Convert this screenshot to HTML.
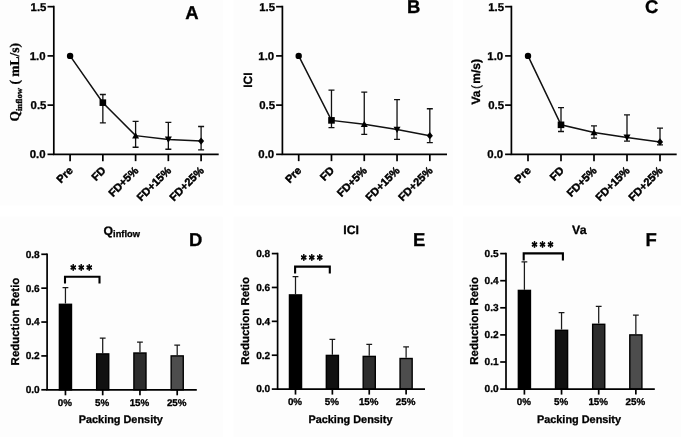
<!DOCTYPE html>
<html lang="en"><head><meta charset="utf-8"><title>Figure</title>
<style>
html,body{margin:0;padding:0;background:#fff;}
svg{display:block;will-change:transform;}
text{font-family:"Liberation Sans", Arial, Helvetica, sans-serif;font-weight:bold;fill:#000;stroke:#000;stroke-width:0.3px;text-rendering:geometricPrecision;}
.tk{font-size:11.4px;}
.rk{font-size:11px;stroke-width:0.45px;}
.tb{font-size:10.1px;}
.tx{font-size:9.8px;}
.lt{font-size:18.5px;}
.xl{font-size:10.9px;}
.yl{font-size:12px;}
.rl{font-size:11.45px;}
.ti{font-size:12.3px;}
.st{font-family:"DejaVu Sans","Liberation Sans",sans-serif;font-size:12px;letter-spacing:2.8px;stroke-width:0.75px;stroke-linejoin:round;}
.sf{font-family:"Liberation Serif", "Times New Roman", serif;font-size:13.5px;}
</style></head><body>
<svg width="681" height="437" viewBox="0 0 681 437">
<rect width="681" height="437" fill="#fff"/>
<rect x="0" y="0" width="222.7" height="205.6" fill="#fdfdfd"/>
<rect x="233.6" y="0" width="219.1" height="205.6" fill="#fdfdfd"/>
<rect x="463" y="0" width="218" height="205.6" fill="#fdfdfd"/>
<rect x="0" y="216.6" width="222.7" height="220.4" fill="#fdfdfd"/>
<rect x="233.6" y="216.6" width="219.1" height="220.4" fill="#fdfdfd"/>
<rect x="463" y="216.6" width="218" height="220.4" fill="#fdfdfd"/>
<path d="M53.8 5.82 V154.35 H218.7" fill="none" stroke="#000" stroke-width="1.7"/>
<path d="M47.5 6.67 H53.8" stroke="#000" stroke-width="1.7"/>
<text x="46.4" y="11" text-anchor="end" class="tk">1.5</text>
<path d="M47.5 55.9 H53.8" stroke="#000" stroke-width="1.7"/>
<text x="45.6" y="60" text-anchor="end" class="tk">1.0</text>
<path d="M47.5 105.12 H53.8" stroke="#000" stroke-width="1.7"/>
<text x="46.4" y="109" text-anchor="end" class="tk">0.5</text>
<path d="M47.5 154.35 H53.8" stroke="#000" stroke-width="1.7"/>
<text x="45.6" y="158" text-anchor="end" class="tk">0.0</text>
<path d="M70.1 154.35 V161.15" stroke="#000" stroke-width="1.7"/>
<text transform="translate(73.6 171.25) rotate(-45)" text-anchor="end" class="rk">Pre</text>
<path d="M102.85 154.35 V161.15" stroke="#000" stroke-width="1.7"/>
<text transform="translate(106.35 171.25) rotate(-45)" text-anchor="end" class="rk">FD</text>
<path d="M135.6 154.35 V161.15" stroke="#000" stroke-width="1.7"/>
<text transform="translate(139.1 171.25) rotate(-45)" text-anchor="end" class="rk">FD+5%</text>
<path d="M168.35 154.35 V161.15" stroke="#000" stroke-width="1.7"/>
<text transform="translate(171.85 171.25) rotate(-45)" text-anchor="end" class="rk">FD+15%</text>
<path d="M201.1 154.35 V161.15" stroke="#000" stroke-width="1.7"/>
<text transform="translate(204.6 171.25) rotate(-45)" text-anchor="end" class="rk">FD+25%</text>
<path d="M70.1 55.9 L102.85 102.66 L135.6 135.64 L168.35 139.39 L201.1 141.06" fill="none" stroke="#111" stroke-width="1.5"/>
<circle cx="70.1" cy="55.9" r="3.2" fill="#000"/>
<path d="M102.85 94.49 V122.85 M99.85 94.49 H105.85 M99.85 122.85 H105.85" fill="none" stroke="#111" stroke-width="1.3"/>
<rect x="99.55" y="99.36" width="6.6" height="6.6" fill="#000"/>
<path d="M135.6 121.37 V147.26 M132.6 121.37 H138.6 M132.6 147.26 H138.6" fill="none" stroke="#111" stroke-width="1.3"/>
<polygon points="135.6,132.14 139.1,138.44 132.1,138.44" fill="#000"/>
<path d="M168.35 122.35 V149.23 M165.35 122.35 H171.35 M165.35 149.23 H171.35" fill="none" stroke="#111" stroke-width="1.3"/>
<polygon points="168.35,142.89 171.85,136.59 164.85,136.59" fill="#000"/>
<path d="M201.1 126.49 V149.82 M198.1 126.49 H204.1 M198.1 149.82 H204.1" fill="none" stroke="#111" stroke-width="1.3"/>
<polygon points="201.1,137.46 204.16,141.06 201.1,144.66 198.04,141.06" fill="#000"/>
<text transform="translate(19.2 121.6) rotate(-90)" class="sf">Q<tspan font-size="8.7" dy="2.4">inflow</tspan><tspan dy="-2.4" style="white-space:pre"> ( mL/s)</tspan></text>
<text x="185.2" y="18.9" class="lt">A</text>
<path d="M282.4 5.82 V154.35 H447" fill="none" stroke="#000" stroke-width="1.7"/>
<path d="M276.1 6.67 H282.4" stroke="#000" stroke-width="1.7"/>
<text x="275" y="11" text-anchor="end" class="tk">1.5</text>
<path d="M276.1 55.9 H282.4" stroke="#000" stroke-width="1.7"/>
<text x="274.2" y="60" text-anchor="end" class="tk">1.0</text>
<path d="M276.1 105.12 H282.4" stroke="#000" stroke-width="1.7"/>
<text x="275" y="109" text-anchor="end" class="tk">0.5</text>
<path d="M276.1 154.35 H282.4" stroke="#000" stroke-width="1.7"/>
<text x="274.2" y="158" text-anchor="end" class="tk">0.0</text>
<path d="M298.7 154.35 V161.15" stroke="#000" stroke-width="1.7"/>
<text transform="translate(302.2 171.25) rotate(-45)" text-anchor="end" class="rk">Pre</text>
<path d="M331.48 154.35 V161.15" stroke="#000" stroke-width="1.7"/>
<text transform="translate(334.98 171.25) rotate(-45)" text-anchor="end" class="rk">FD</text>
<path d="M364.26 154.35 V161.15" stroke="#000" stroke-width="1.7"/>
<text transform="translate(367.76 171.25) rotate(-45)" text-anchor="end" class="rk">FD+5%</text>
<path d="M397.04 154.35 V161.15" stroke="#000" stroke-width="1.7"/>
<text transform="translate(400.54 171.25) rotate(-45)" text-anchor="end" class="rk">FD+15%</text>
<path d="M429.82 154.35 V161.15" stroke="#000" stroke-width="1.7"/>
<text transform="translate(433.32 171.25) rotate(-45)" text-anchor="end" class="rk">FD+25%</text>
<path d="M298.7 55.9 L331.48 120.38 L364.26 124.32 L397.04 129.54 L429.82 135.64" fill="none" stroke="#111" stroke-width="1.5"/>
<circle cx="298.7" cy="55.9" r="3.2" fill="#000"/>
<path d="M331.48 90.16 V127.57 M328.48 90.16 H334.48 M328.48 127.57 H334.48" fill="none" stroke="#111" stroke-width="1.3"/>
<rect x="328.18" y="117.08" width="6.6" height="6.6" fill="#000"/>
<path d="M364.26 92.13 V134.36 M361.26 92.13 H367.26 M361.26 134.36 H367.26" fill="none" stroke="#111" stroke-width="1.3"/>
<polygon points="364.26,120.82 367.76,127.12 360.76,127.12" fill="#000"/>
<path d="M397.04 99.61 V139.29 M394.04 99.61 H400.04 M394.04 139.29 H400.04" fill="none" stroke="#111" stroke-width="1.3"/>
<polygon points="397.04,133.04 400.54,126.74 393.54,126.74" fill="#000"/>
<path d="M429.82 108.77 V142.54 M426.82 108.77 H432.82 M426.82 142.54 H432.82" fill="none" stroke="#111" stroke-width="1.3"/>
<polygon points="429.82,132.04 432.88,135.64 429.82,139.24 426.76,135.64" fill="#000"/>
<text transform="translate(251.5 80.2) rotate(-90)" text-anchor="middle" class="yl">ICI</text>
<text x="407" y="13.2" class="lt">B</text>
<path d="M511.4 5.82 V154.35 H676.7" fill="none" stroke="#000" stroke-width="1.7"/>
<path d="M505.1 6.67 H511.4" stroke="#000" stroke-width="1.7"/>
<text x="504" y="11" text-anchor="end" class="tk">1.5</text>
<path d="M505.1 55.9 H511.4" stroke="#000" stroke-width="1.7"/>
<text x="503.2" y="60" text-anchor="end" class="tk">1.0</text>
<path d="M505.1 105.12 H511.4" stroke="#000" stroke-width="1.7"/>
<text x="504" y="109" text-anchor="end" class="tk">0.5</text>
<path d="M505.1 154.35 H511.4" stroke="#000" stroke-width="1.7"/>
<text x="503.2" y="158" text-anchor="end" class="tk">0.0</text>
<path d="M528 154.35 V161.15" stroke="#000" stroke-width="1.7"/>
<text transform="translate(531.5 171.25) rotate(-45)" text-anchor="end" class="rk">Pre</text>
<path d="M561 154.35 V161.15" stroke="#000" stroke-width="1.7"/>
<text transform="translate(564.5 171.25) rotate(-45)" text-anchor="end" class="rk">FD</text>
<path d="M594 154.35 V161.15" stroke="#000" stroke-width="1.7"/>
<text transform="translate(597.5 171.25) rotate(-45)" text-anchor="end" class="rk">FD+5%</text>
<path d="M627 154.35 V161.15" stroke="#000" stroke-width="1.7"/>
<text transform="translate(630.5 171.25) rotate(-45)" text-anchor="end" class="rk">FD+15%</text>
<path d="M660 154.35 V161.15" stroke="#000" stroke-width="1.7"/>
<text transform="translate(663.5 171.25) rotate(-45)" text-anchor="end" class="rk">FD+25%</text>
<path d="M528 55.9 L561 124.81 L594 132.49 L627 137.42 L660 141.95" fill="none" stroke="#111" stroke-width="1.5"/>
<circle cx="528" cy="55.9" r="3.2" fill="#000"/>
<path d="M561 107.59 V131.51 M558 107.59 H564 M558 131.51 H564" fill="none" stroke="#111" stroke-width="1.3"/>
<rect x="557.7" y="121.52" width="6.6" height="6.6" fill="#000"/>
<path d="M594 125.8 V138.11 M591 125.8 H597 M591 138.11 H597" fill="none" stroke="#111" stroke-width="1.3"/>
<polygon points="594,128.99 597.5,135.29 590.5,135.29" fill="#000"/>
<path d="M627 114.97 V141.06 M624 114.97 H630 M624 141.06 H630" fill="none" stroke="#111" stroke-width="1.3"/>
<polygon points="627,140.92 630.5,134.62 623.5,134.62" fill="#000"/>
<path d="M660 128.06 V144.9 M657 128.06 H663 M657 144.9 H663" fill="none" stroke="#111" stroke-width="1.3"/>
<polygon points="660,138.35 663.06,141.95 660,145.55 656.94,141.95" fill="#000"/>
<text transform="translate(480 104.6) rotate(-90)" class="yl">Va<tspan dx="1.6" style="font-weight:normal;stroke-width:0.15px">(</tspan><tspan dx="1.2">m/s)</tspan></text>
<text x="645" y="13.2" class="lt">C</text>
<path d="M65.45 303.6 V287.6 M62.55 287.6 H68.35" fill="none" stroke="#1a1a1a" stroke-width="1.25"/>
<rect x="59.4" y="304.3" width="12.1" height="85.5" fill="#000" stroke="#000" stroke-width="1.4"/>
<path d="M102.7 353.2 V338.1 M99.8 338.1 H105.6" fill="none" stroke="#1a1a1a" stroke-width="1.25"/>
<rect x="96.65" y="353.9" width="12.1" height="35.9" fill="#111" stroke="#000" stroke-width="1.4"/>
<path d="M139.95 352.3 V342 M137.05 342 H142.85" fill="none" stroke="#1a1a1a" stroke-width="1.25"/>
<rect x="133.9" y="353" width="12.1" height="36.8" fill="#2d2d2d" stroke="#000" stroke-width="1.4"/>
<path d="M177.2 355.2 V345 M174.3 345 H180.1" fill="none" stroke="#1a1a1a" stroke-width="1.25"/>
<rect x="171.15" y="355.9" width="12.1" height="33.9" fill="#4d4d4d" stroke="#000" stroke-width="1.4"/>
<path d="M47.1 253.43 V389.8 H196.8" fill="none" stroke="#000" stroke-width="1.7"/>
<path d="M41.3 389.8 H47.1" stroke="#000" stroke-width="1.7"/>
<text x="39.7" y="393" text-anchor="end" class="tb">0.0</text>
<path d="M41.3 355.92 H47.1" stroke="#000" stroke-width="1.7"/>
<text x="39.7" y="359" text-anchor="end" class="tb">0.2</text>
<path d="M41.3 322.04 H47.1" stroke="#000" stroke-width="1.7"/>
<text x="39.7" y="325" text-anchor="end" class="tb">0.4</text>
<path d="M41.3 288.16 H47.1" stroke="#000" stroke-width="1.7"/>
<text x="39.7" y="292" text-anchor="end" class="tb">0.6</text>
<path d="M41.3 254.28 H47.1" stroke="#000" stroke-width="1.7"/>
<text x="39.7" y="258" text-anchor="end" class="tb">0.8</text>
<path d="M65.45 389.8 V395.3" stroke="#000" stroke-width="1.7"/>
<text x="64.95" y="406" text-anchor="middle" class="tx">0%</text>
<path d="M102.7 389.8 V395.3" stroke="#000" stroke-width="1.7"/>
<text x="102.2" y="406" text-anchor="middle" class="tx">5%</text>
<path d="M139.95 389.8 V395.3" stroke="#000" stroke-width="1.7"/>
<text x="139.45" y="406" text-anchor="middle" class="tx">15%</text>
<path d="M177.2 389.8 V395.3" stroke="#000" stroke-width="1.7"/>
<text x="176.7" y="406" text-anchor="middle" class="tx">25%</text>
<path d="M65 283.6 V276.8 H99.5 V283.6" fill="none" stroke="#000" stroke-width="2.1"/>
<text transform="translate(82.5 273.8) scale(0.88 1.07)" text-anchor="middle" class="st">***</text>
<text x="120.8" y="423" text-anchor="middle" class="xl">Packing Density</text>
<text transform="translate(18.8 321.54) rotate(-90)" text-anchor="middle" class="rl">Reduction Retio</text>
<text x="103.5" y="234.6" class="ti">Q<tspan font-size="9.3" dy="2.6">inflow</tspan></text>
<text x="189" y="245.8" class="lt">D</text>
<path d="M295.5 294.2 V276.6 M292.6 276.6 H298.4" fill="none" stroke="#1a1a1a" stroke-width="1.25"/>
<rect x="289.45" y="294.9" width="12.1" height="94.2" fill="#000" stroke="#000" stroke-width="1.4"/>
<path d="M332.37 354.7 V339.4 M329.47 339.4 H335.27" fill="none" stroke="#1a1a1a" stroke-width="1.25"/>
<rect x="326.32" y="355.4" width="12.1" height="33.7" fill="#111" stroke="#000" stroke-width="1.4"/>
<path d="M369.24 355.7 V344.3 M366.34 344.3 H372.14" fill="none" stroke="#1a1a1a" stroke-width="1.25"/>
<rect x="363.19" y="356.4" width="12.1" height="32.7" fill="#2d2d2d" stroke="#000" stroke-width="1.4"/>
<path d="M406.11 357.8 V346.9 M403.21 346.9 H409.01" fill="none" stroke="#1a1a1a" stroke-width="1.25"/>
<rect x="400.06" y="358.5" width="12.1" height="30.6" fill="#4d4d4d" stroke="#000" stroke-width="1.4"/>
<path d="M277.6 252.73 V389.1 H425" fill="none" stroke="#000" stroke-width="1.7"/>
<path d="M271.8 389.1 H277.6" stroke="#000" stroke-width="1.7"/>
<text x="270.2" y="392" text-anchor="end" class="tb">0.0</text>
<path d="M271.8 355.22 H277.6" stroke="#000" stroke-width="1.7"/>
<text x="270.2" y="359" text-anchor="end" class="tb">0.2</text>
<path d="M271.8 321.34 H277.6" stroke="#000" stroke-width="1.7"/>
<text x="270.2" y="325" text-anchor="end" class="tb">0.4</text>
<path d="M271.8 287.46 H277.6" stroke="#000" stroke-width="1.7"/>
<text x="270.2" y="291" text-anchor="end" class="tb">0.6</text>
<path d="M271.8 253.58 H277.6" stroke="#000" stroke-width="1.7"/>
<text x="270.2" y="257" text-anchor="end" class="tb">0.8</text>
<path d="M295.5 389.1 V394.6" stroke="#000" stroke-width="1.7"/>
<text x="295" y="405" text-anchor="middle" class="tx">0%</text>
<path d="M332.37 389.1 V394.6" stroke="#000" stroke-width="1.7"/>
<text x="331.87" y="405" text-anchor="middle" class="tx">5%</text>
<path d="M369.24 389.1 V394.6" stroke="#000" stroke-width="1.7"/>
<text x="368.74" y="405" text-anchor="middle" class="tx">15%</text>
<path d="M406.11 389.1 V394.6" stroke="#000" stroke-width="1.7"/>
<text x="405.61" y="405" text-anchor="middle" class="tx">25%</text>
<path d="M295.1 273.4 V266.6 H329.8 V273.4" fill="none" stroke="#000" stroke-width="2.1"/>
<text transform="translate(312.9 263.5) scale(0.88 1.07)" text-anchor="middle" class="st">***</text>
<text x="350.5" y="423" text-anchor="middle" class="xl">Packing Density</text>
<text transform="translate(248.9 320.84) rotate(-90)" text-anchor="middle" class="rl">Reduction Retio</text>
<text x="351.1" y="234.4" text-anchor="middle" class="ti">ICI</text>
<text x="413" y="245.8" class="lt">E</text>
<path d="M524.4 289.7 V261.9 M521.5 261.9 H527.3" fill="none" stroke="#1a1a1a" stroke-width="1.25"/>
<rect x="518.35" y="290.4" width="12.1" height="98.7" fill="#000" stroke="#000" stroke-width="1.4"/>
<path d="M561.55 329.6 V312.6 M558.65 312.6 H564.45" fill="none" stroke="#1a1a1a" stroke-width="1.25"/>
<rect x="555.5" y="330.3" width="12.1" height="58.8" fill="#111" stroke="#000" stroke-width="1.4"/>
<path d="M598.7 323.6 V306.4 M595.8 306.4 H601.6" fill="none" stroke="#1a1a1a" stroke-width="1.25"/>
<rect x="592.65" y="324.3" width="12.1" height="64.8" fill="#2d2d2d" stroke="#000" stroke-width="1.4"/>
<path d="M635.85 334.2 V315 M632.95 315 H638.75" fill="none" stroke="#1a1a1a" stroke-width="1.25"/>
<rect x="629.8" y="334.9" width="12.1" height="54.2" fill="#4d4d4d" stroke="#000" stroke-width="1.4"/>
<path d="M506 252.75 V389.1 H654.8" fill="none" stroke="#000" stroke-width="1.7"/>
<path d="M500.2 389.1 H506" stroke="#000" stroke-width="1.7"/>
<text x="498.6" y="392" text-anchor="end" class="tb">0.0</text>
<path d="M500.2 362 H506" stroke="#000" stroke-width="1.7"/>
<text x="498.6" y="365" text-anchor="end" class="tb">0.1</text>
<path d="M500.2 334.9 H506" stroke="#000" stroke-width="1.7"/>
<text x="498.6" y="338" text-anchor="end" class="tb">0.2</text>
<path d="M500.2 307.8 H506" stroke="#000" stroke-width="1.7"/>
<text x="498.6" y="311" text-anchor="end" class="tb">0.3</text>
<path d="M500.2 280.7 H506" stroke="#000" stroke-width="1.7"/>
<text x="498.6" y="284" text-anchor="end" class="tb">0.4</text>
<path d="M500.2 253.6 H506" stroke="#000" stroke-width="1.7"/>
<text x="498.6" y="257" text-anchor="end" class="tb">0.5</text>
<path d="M524.4 389.1 V394.6" stroke="#000" stroke-width="1.7"/>
<text x="523.9" y="405" text-anchor="middle" class="tx">0%</text>
<path d="M561.55 389.1 V394.6" stroke="#000" stroke-width="1.7"/>
<text x="561.05" y="405" text-anchor="middle" class="tx">5%</text>
<path d="M598.7 389.1 V394.6" stroke="#000" stroke-width="1.7"/>
<text x="598.2" y="405" text-anchor="middle" class="tx">15%</text>
<path d="M635.85 389.1 V394.6" stroke="#000" stroke-width="1.7"/>
<text x="635.35" y="405" text-anchor="middle" class="tx">25%</text>
<path d="M523.7 260.6 V253.4 H562.9 V260.6" fill="none" stroke="#000" stroke-width="2.1"/>
<text transform="translate(543.8 250.7) scale(0.88 1.07)" text-anchor="middle" class="st">***</text>
<text x="579" y="423" text-anchor="middle" class="xl">Packing Density</text>
<text transform="translate(477.9 320.85) rotate(-90)" text-anchor="middle" class="rl">Reduction Retio</text>
<text x="579.3" y="234.4" text-anchor="middle" class="ti">Va</text>
<text x="645.5" y="245.8" class="lt">F</text>
</svg></body></html>
